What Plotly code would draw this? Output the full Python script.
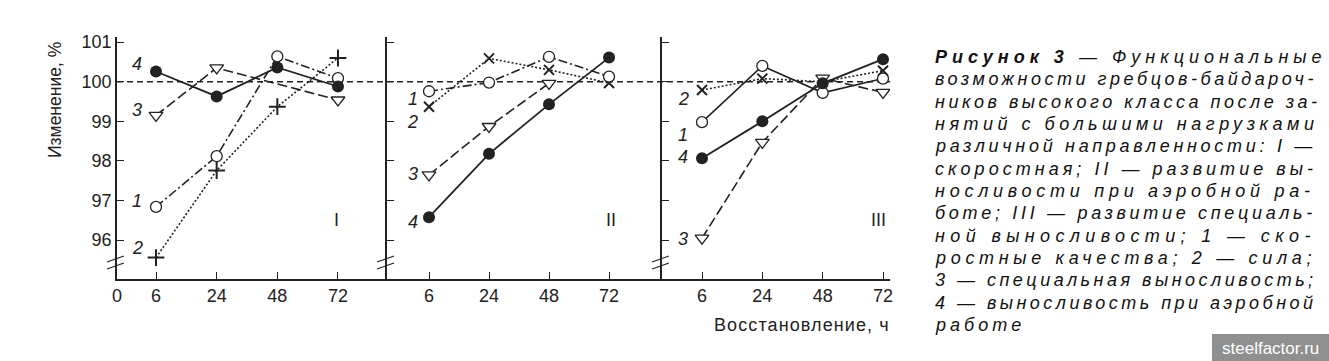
import plotly.graph_objects as go

# ---------------- data ----------------
hours = ["6", "24", "48", "72"]
yticks = [96, 97, 98, 99, 100, 101]

# Panel I (скоростная)
p1_s1 = [96.84, 98.12, 100.64, 100.09]
p1_s2 = [95.56, 97.76, 99.37, 100.60]
p1_s3 = [99.15, 100.35, None, 99.54]
p1_s4 = [100.26, 99.63, 100.36, 99.88]

# Panel II (аэробная)
p2_s1 = [99.76, 99.98, 100.63, 100.13]
p2_s2 = [99.37, 100.59, 100.30, 99.97]
p2_s3 = [97.65, 98.87, 99.96, None]
p2_s4 = [96.58, 98.18, 99.43, 100.61]

# Panel III (специальная выносливость)
p3_s1 = [98.98, 100.40, 99.72, 100.08]
p3_s2 = [99.79, 100.08, 100.00, 100.28]
p3_s3 = [96.05, 98.47, 100.09, 99.73]
p3_s4 = [98.07, 99.00, 99.96, 100.57]

panel_names = ["I", "II", "III"]

caption_lines = [
    "Рисунок 3 — Функциональные",
    "возможности гребцов-байдароч-",
    "ников высокого класса после за-",
    "нятий с большими нагрузками",
    "различной направленности: I —",
    "скоростная; II — развитие вы-",
    "носливости при аэробной ра-",
    "боте; III — развитие специаль-",
    "ной выносливости; 1 — ско-",
    "ростные качества; 2 — сила;",
    "3 — специальная выносливость;",
    "4 — выносливость при аэробной",
    "работе",
]
caption_bold = "Рисунок 3"

# ---------------- layout geometry (reference pixels) ----------------
W, H = 1329, 361
L, R, T, B = 117, 890, 37, 279
PW, PH = R - L, B - T
FONT = "Liberation Sans, Arial, sans-serif"
INK = "#222222"


def px(x):
    return (x - L) / PW


def py(y):
    return (B - y) / PH


axis_px = [117, 387, 662, R]
domains = [[px(axis_px[i]), px(axis_px[i + 1])] for i in range(3)]
xranges = [[-0.643, 3.808], [-0.70, 3.883], [-0.663, 3.116]]
yrange = [95.02, 101.13]

fig = go.Figure()

panels = [
    (p1_s1, p1_s2, p1_s3, p1_s4, "cross-thin"),
    (p2_s1, p2_s2, p2_s3, p2_s4, "x-thin"),
    (p3_s1, p3_s2, p3_s3, p3_s4, "x-thin"),
]

xs = list(range(len(hours)))
for i, (s1, s2, s3, s4, sym2) in enumerate(panels):
    xa = "x" if i == 0 else f"x{i+1}"
    ya = "y" if i == 0 else f"y{i+1}"
    dash1 = "solid" if i == 2 else "9px,3px,2px,3px"
    fig.add_trace(go.Scatter(
        x=xs, y=s2, xaxis=xa, yaxis=ya, mode="lines+markers",
        line=dict(color=INK, width=1.6, dash="2px,2px"),
        marker=dict(symbol=sym2, size=12 if sym2 == "cross-thin" else 10,
                    line=dict(color=INK, width=2), color=INK),
        connectgaps=True, showlegend=False, hoverinfo="skip"))
    fig.add_trace(go.Scatter(
        x=xs, y=s3, xaxis=xa, yaxis=ya, mode="lines+markers",
        line=dict(color=INK, width=1.6, dash="10px,4px"),
        marker=dict(symbol="triangle-down", size=12, color="white",
                    line=dict(color=INK, width=1.3)),
        connectgaps=True, showlegend=False, hoverinfo="skip"))
    fig.add_trace(go.Scatter(
        x=xs, y=s1, xaxis=xa, yaxis=ya, mode="lines+markers",
        line=dict(color=INK, width=1.6, dash=dash1),
        marker=dict(symbol="circle", size=11, color="white",
                    line=dict(color=INK, width=1.3)),
        connectgaps=True, showlegend=False, hoverinfo="skip"))
    fig.add_trace(go.Scatter(
        x=xs, y=s4, xaxis=xa, yaxis=ya, mode="lines+markers",
        line=dict(color=INK, width=1.8),
        marker=dict(symbol="circle", size=12, color=INK),
        connectgaps=True, showlegend=False, hoverinfo="skip"))

# ---------------- axes ----------------
for i in range(3):
    xk = "xaxis" if i == 0 else f"xaxis{i+1}"
    yk = "yaxis" if i == 0 else f"yaxis{i+1}"
    tv = list(xs)
    tt = list(hours)
    if i == 0:
        tv = [xranges[0][0]] + tv
        tt = ["0"] + tt
    fig.layout[xk] = dict(
        domain=domains[i], range=xranges[i], anchor="y" if i == 0 else f"y{i+1}",
        showgrid=False, zeroline=False, showline=True, linecolor=INK, linewidth=1.5,
        ticks="inside", ticklen=7, tickwidth=1.3, tickcolor=INK,
        tickvals=tv, ticktext=tt, tickfont=dict(family=FONT, size=18, color=INK),
        fixedrange=True)
    fig.layout[yk] = dict(
        domain=[0, 1], range=yrange, anchor="x" if i == 0 else f"x{i+1}",
        showgrid=False, zeroline=False, showline=True, linecolor=INK, linewidth=1.5,
        ticks="inside", ticklen=7, tickwidth=1.3, tickcolor=INK,
        tickvals=yticks, showticklabels=(i == 0),
        tickfont=dict(family=FONT, size=18, color=INK), fixedrange=True)

shapes = []
shapes.append(dict(type="line", xref="paper", yref="y", x0=0, x1=1, y0=100, y1=100,
                   line=dict(color=INK, width=1.3, dash="6px,4px"), layer="below"))
for ax in axis_px[:3]:
    for dy in (0, 7):
        shapes.append(dict(type="line", xref="paper", yref="paper",
                           x0=px(ax - 10), x1=px(ax + 7),
                           y0=py(262 + dy), y1=py(256 + dy),
                           line=dict(color=INK, width=1.3)))
shapes.append(dict(type="rect", xref="paper", yref="paper",
                   x0=px(1212), x1=px(1335), y0=py(366), y1=py(334),
                   fillcolor="#8f8f8f", line=dict(width=0)))

annotations = []
label_pos = [
    (0, "4", -0.31, 100.46), (0, "3", -0.31, 99.28), (0, "1", -0.31, 97.0), (0, "2", -0.31, 95.8),
    (1, "1", -0.27, 99.56), (1, "2", -0.27, 98.98), (1, "3", -0.27, 97.67), (1, "4", -0.27, 96.46),
    (2, "2", -0.31, 99.56), (2, "1", -0.31, 98.65), (2, "4", -0.31, 98.1), (2, "3", -0.31, 96.03),
]
for pi, txt, xv, yv in label_pos:
    annotations.append(dict(
        xref="x" if pi == 0 else f"x{pi+1}", yref="y" if pi == 0 else f"y{pi+1}",
        x=xv, y=yv, text=f"<i>{txt}</i>", showarrow=False,
        font=dict(family=FONT, size=18, color=INK)))
for pi, (name, xv) in enumerate(zip(panel_names, [2.98, 3.03, 2.92])):
    annotations.append(dict(
        xref="x" if pi == 0 else f"x{pi+1}", yref="y" if pi == 0 else f"y{pi+1}",
        x=xv, y=96.5, text=name, showarrow=False,
        font=dict(family=FONT, size=18, color=INK)))
annotations.append(dict(xref="paper", yref="paper", x=px(55), y=py(100),
                        xanchor="center", yanchor="middle",
                        text="Изменение, %", textangle=-90, showarrow=False,
                        font=dict(family=FONT, size=17.5, color=INK)))
annotations.append(dict(xref="paper", yref="paper", x=px(892), y=py(325),
                        xanchor="right", yanchor="middle",
                        text="<span style='letter-spacing:1.1px'>Восстановление, ч</span>",
                        showarrow=False,
                        font=dict(family=FONT, size=18, color=INK)))

# caption: justified block, emulated with per-line letter spacing
CAP_SIZE = 18
CAP_X0, CAP_X1 = 933, 1287
CAP_Y0, CAP_DY = 57, 22.33
CW = {' ': 278, ',': 278, ';': 278, ':': 278, '-': 333, '—': 1000, 'I': 278, 'Р': 700,
      'а': 556, 'б': 573, 'в': 531, 'г': 365, 'д': 583, 'е': 556, 'ж': 669, 'з': 458,
      'и': 559, 'й': 559, 'к': 438, 'л': 583, 'м': 688, 'н': 552, 'о': 556, 'п': 542,
      'р': 556, 'с': 500, 'т': 833, 'у': 500, 'ф': 823, 'х': 500, 'ц': 573, 'ч': 521,
      'ш': 802, 'щ': 823, 'ъ': 625, 'ы': 719, 'ь': 521, 'э': 510, 'ю': 750, 'я': 542}
CAL = 0.91


def est_width(s):
    return CAL * CAP_SIZE * sum(CW.get(c, 556) for c in s) / 1000.0


spacings = []
for k, line in enumerate(caption_lines):
    if k < len(caption_lines) - 1:
        ls = (CAP_X1 - CAP_X0 - est_width(line)) / (len(line) - 1)
        spacings.append(ls)
    else:
        ls = sorted(spacings)[len(spacings) // 2]
    body = line
    if caption_bold in body:
        body = body.replace(caption_bold, f"<b>{caption_bold}</b>")
    annotations.append(dict(
        xref="paper", yref="paper", x=px(CAP_X0), y=py(CAP_Y0 + k * CAP_DY),
        xanchor="left", yanchor="middle", align="left", showarrow=False,
        text=f"<span style='letter-spacing:{ls:.2f}px'><i>{body}</i></span>",
        font=dict(family=FONT, size=CAP_SIZE, color="#111111")))

annotations.append(dict(xref="paper", yref="paper", x=px(1270.5), y=py(348),
                        xanchor="center", yanchor="middle",
                        text="steelfactor.ru", showarrow=False,
                        font=dict(family=FONT, size=17, color="white")))

fig.update_layout(
    width=W, height=H,
    margin=dict(l=L, r=W - R, t=T, b=H - B, pad=0),
    paper_bgcolor="white", plot_bgcolor="white",
    shapes=shapes, annotations=annotations, showlegend=False,
)

fig.write_html("out.html", config={"displayModeBar": False},
               post_script="document.body.style.margin='0';")
